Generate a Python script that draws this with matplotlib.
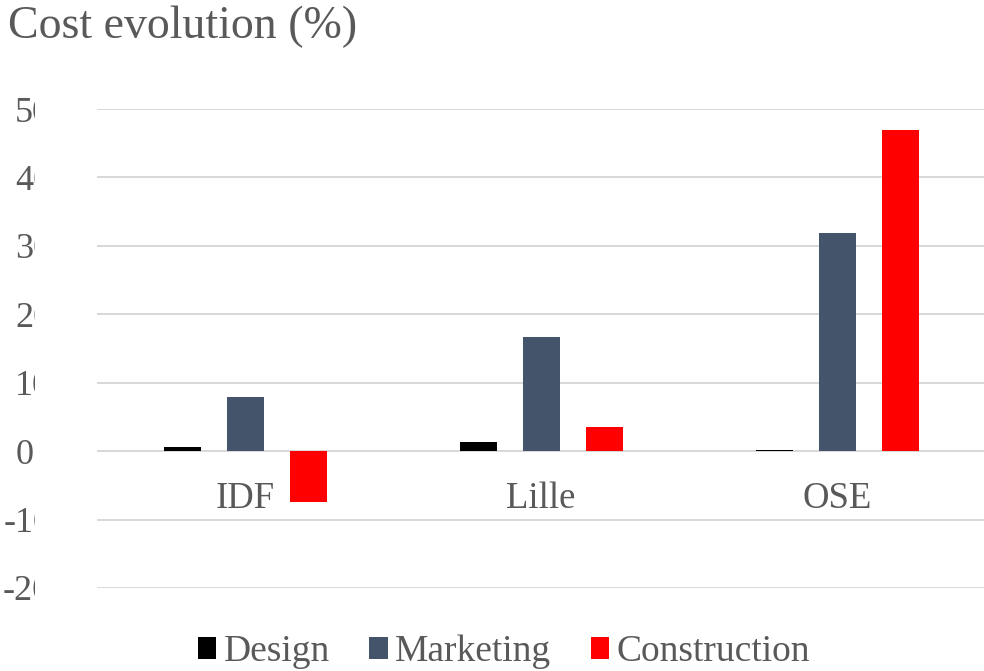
import matplotlib
matplotlib.use("Agg")
import matplotlib.pyplot as plt
import numpy as np
from matplotlib.transforms import Bbox, TransformedBbox, ScaledTranslation

plt.rcParams['font.family'] = ['Liberation Serif', 'DejaVu Serif']
plt.rcParams['axes.unicode_minus'] = False

regions = ["IDF", "Lille", "OSE"]
series = ["Design", "Marketing", "Construction"]
design = [0.6, 1.3, 0.2]
marketing = [7.9, 16.7, 31.9]
construction = [-7.5, 3.6, 46.9]
colors = ["#000000", "#44546A", "#FF0000"]
yticks = [-20, -10, 0, 10, 20, 30, 40, 50]

text_grey = "#595959"

fig = plt.figure(figsize=(9.84, 6.71), dpi=100)
ax = fig.add_axes([97 / 984, 83 / 671, 888 / 984, 479 / 671])

x = np.arange(len(regions))
step = 63 / 296
width = 37 / 296
bars = []
for i, (name, vals) in enumerate(zip(series, [design, marketing, construction])):
    b = ax.bar(x + (i - 1) * step, vals, width, color=colors[i], label=name, zorder=3)
    bars.append(b)

ax.set_xlim(-0.5, 2.5)
ax.set_ylim(-20, 50)
ax.set_yticks(yticks)
ax.set_yticklabels([str(v) for v in yticks])
ax.set_xticks(x)
ax.set_xticklabels(regions)

for s in ax.spines.values():
    s.set_visible(False)
ax.spines['bottom'].set_position(('data', 0))

ax.tick_params(axis='x', length=0, pad=21.5, labelsize=26.5, colors=text_grey)
ax.tick_params(axis='y', length=0, pad=33, labelsize=26, colors=text_grey)
ax.yaxis.grid(True, color="#d6d6d6", linewidth=1.3, zorder=0)
ax.set_axisbelow(True)

fig.text(8 / 984, 1 - 27 / 671, "Cost evolution (%)", fontsize=33, color=text_grey,
         ha='left', va='center')

fig.legend(handles=bars, loc='center', bbox_to_anchor=(0.512, 19 / 671), ncol=3,
           frameon=False, fontsize=27, handlelength=0.5, handleheight=0.5,
           handletextpad=0.19, columnspacing=1.05, labelcolor=text_grey)

# the value labels get cut off on the left like in the original
fig.canvas.draw()
clip = TransformedBbox(Bbox.from_extents(0, 0, 35 / 984, 1), fig.transFigure)
for lab in ax.get_yticklabels():
    lab.set_clip_box(clip)
    lab.set_clip_on(True)
    if lab.get_text() == "0":
        # zero label sits one digit further left in the original
        lab.set_transform(lab.get_transform() +
                          ScaledTranslation(-18 / 100, 0, fig.dpi_scale_trans))

fig.savefig("out.png", dpi=100)
